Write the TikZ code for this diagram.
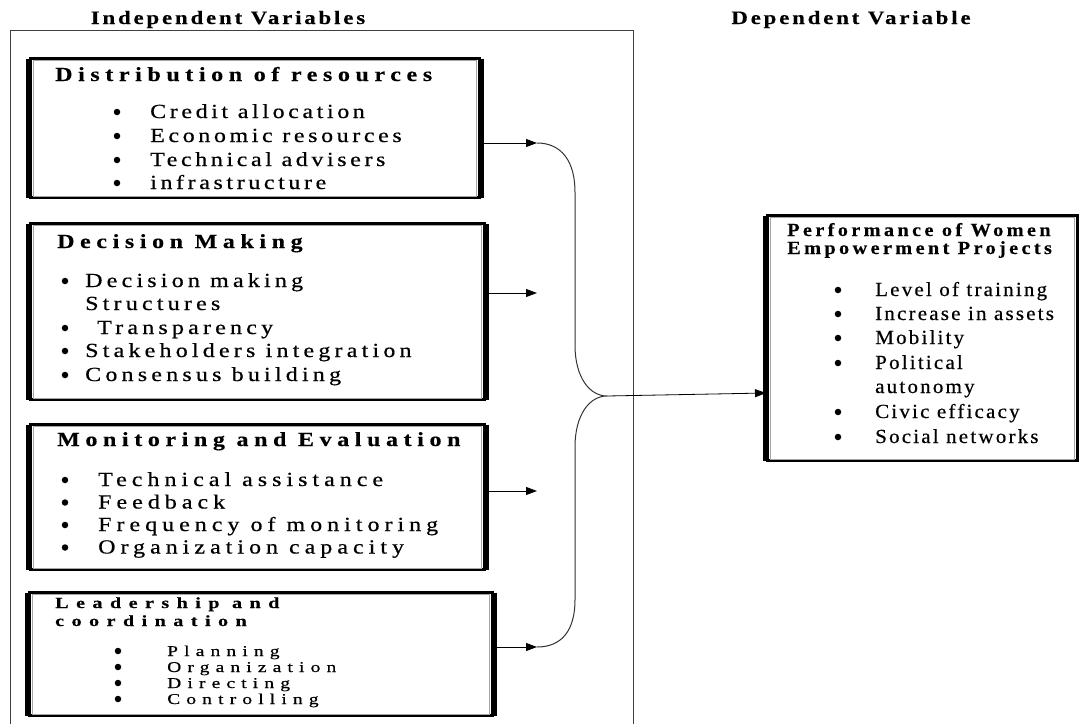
\documentclass[tikz,border=0pt]{standalone}
\usepackage{fontspec}
\setmainfont{Liberation Serif}
\newfontfamily\lsA[FakeStretch=1.2,LetterSpace=18,FakeBold=0.6]{Liberation Serif}
\newfontfamily\lsB[FakeStretch=1.2,LetterSpace=21,FakeBold=0.6]{Liberation Serif}
\newfontfamily\lsC[FakeStretch=1.2,LetterSpace=25,FakeBold=0.6]{Liberation Serif}
\newfontfamily\lsT[FakeStretch=1.2,LetterSpace=28,FakeBold=0.4]{Liberation Serif}
\newfontfamily\lsD[FakeStretch=1.3,LetterSpace=41,FakeBold=0.6]{Liberation Serif}
\newfontfamily\lsE[FakeStretch=1.3,LetterSpace=48,FakeBold=0.4]{Liberation Serif}
\newfontfamily\lsF[FakeStretch=1.05,LetterSpace=11,FakeBold=0.5]{Liberation Serif}
\newfontfamily\lsG[FakeStretch=1.1,LetterSpace=18,FakeBold=0.3]{Liberation Serif}
\newfontfamily\lsH[FakeStretch=1.2,LetterSpace=15,FakeBold=0.3]{Liberation Serif}
\usetikzlibrary{arrows.meta}
\begin{document}
\begin{tikzpicture}[x=1pt,y=-1pt,
  box/.style={draw=black, line width=3pt, inner sep=0pt, anchor=north west},
  side/.style={line width=6pt, black},
  inner/.style={draw=gray!70, line width=0.6pt},
  frame/.style={draw=black!75, line width=1pt},
  hd/.style={anchor=base, inner sep=0pt, font=\fontsize{19}{21}\selectfont\lsH\bfseries},
  ttl/.style={anchor=base west, inner sep=0pt, font=\fontsize{20}{22}\selectfont\lsT\bfseries},
  tA/.style={anchor=base west, inner sep=0pt, font=\fontsize{20}{24}\selectfont\lsA},
  tB/.style={anchor=base west, inner sep=0pt, font=\fontsize{20}{24}\selectfont\lsB},
  tC/.style={anchor=base west, inner sep=0pt, font=\fontsize{20}{24}\selectfont\lsC},
  tD/.style={anchor=base west, inner sep=0pt, font=\fontsize{15}{18}\selectfont\lsD},
  tDb/.style={anchor=base west, inner sep=0pt, font=\fontsize{15.5}{18}\selectfont\lsE\bfseries},
  tF/.style={anchor=base west, inner sep=0pt, font=\fontsize{20}{22}\selectfont\lsF},
  tFb/.style={anchor=base west, inner sep=0pt, font=\fontsize{18.5}{20}\selectfont\lsG\bfseries},
  bul/.style={circle, fill=black, inner sep=0pt, minimum size=6.5pt},
  arr/.style={-{Triangle[length=11pt,width=8pt]}, line width=0.8pt, black},
  brace/.style={line width=1pt, black!80}
]
\useasboundingbox (0,0) rectangle (1079,723);
% outer frame
\draw[frame] (10,740) -- (10,30) -- (633,30) -- (633,740);
% headers
\node[hd] (h1) at (228,24) {Independent Variables};
\node[hd] (h2) at (851,24) {Dependent Variable};

% boxes
\node[box, minimum width=449pt, minimum height=139pt] (b1) at (29,57) {};
\node[box, minimum width=454pt, minimum height=176pt] (b2) at (29,222) {};
\node[box, minimum width=454pt, minimum height=145pt] (b3) at (29,423) {};
\node[box, minimum width=463pt, minimum height=123pt] (b4) at (28,591) {};
\node[box, minimum width=310pt, minimum height=245pt] (tg) at (766,214) {};
\foreach \b in {b1,b2,b3,b4,tg}{
  \draw[side] ([yshift=-1.5pt]\b.north west) -- ([yshift=1.5pt]\b.south west);
  \draw[side] ([yshift=-1.5pt]\b.north east) -- ([yshift=1.5pt]\b.south east);
  \draw[inner] ([shift={(4.5pt,-3pt)}]\b.north west) rectangle ([shift={(-4.5pt,3pt)}]\b.south east);
}

% box 1
\node[ttl] (b1t) at (55,81) {Distribution of resources};
\foreach \y/\t [count=\i] in {118/Credit allocation,142/Economic resources,166/Technical advisers,189/infrastructure}{
  \node[bul] (b1d\i) at (117,\y-6) {};
  \node[tA] (b1l\i) at (150,\y) {\t};
}
% box 2
\node[ttl] (b2t) at (57,248) {Decision Making};
\node[bul] (b2d1) at (65,281) {};
\node[tB] (b2l1) at (85,287) {Decision making};
\node[tB] (b2l1b) at (85,310) {Structures};
\node[bul] (b2d2) at (65,328) {};
\node[tB] (b2l2) at (97,334) {Transparency};
\node[bul] (b2d3) at (65,351) {};
\node[tB] (b2l3) at (85,357) {Stakeholders integration};
\node[bul] (b2d4) at (65,375) {};
\node[tB] (b2l4) at (85,381) {Consensus building};
% box 3
\node[ttl] (b3t) at (57,446) {Monitoring and Evaluation};
\foreach \y/\t [count=\i] in {486/Technical assistance,508.5/Feedback,531/Frequency of monitoring,553.5/Organization capacity}{
  \node[bul] (b3d\i) at (65,\y-6) {};
  \node[tC] (b3l\i) at (98,\y) {\t};
}
% box 4
\node[tDb] (b4t) at (55,608) {Leadership and};
\node[tDb] (b4t2) at (55,626) {coordination};
\foreach \y/\t [count=\i] in {656/Planning,672/Organization,688/Directing,704/Controlling}{
  \node[bul] (b4d\i) at (118,\y-5) {};
  \node[tD] (b4l\i) at (167,\y) {\t};
}
% target box
\node[tFb] (tgt) at (787,236) {Performance of Women};
\node[tFb] (tgt2) at (787,254) {Empowerment Projects};
\foreach \y/\t [count=\i] in {296/Level of training,320/Increase in assets,344/Mobility,369/Political,393/autonomy,418/Civic efficacy,443/Social networks}{
  \node[tF] (tgl\i) at (875,\y) {\t};
}
\foreach \y [count=\i] in {296,320,344,369,418,443}{
  \node[bul] (tgd\i) at (838,\y-6) {};
}

% connectors
\coordinate (a1) at (537,143);
\coordinate (a2) at (537,293);
\coordinate (a3) at (537,491);
\coordinate (a4) at (537,647);
\coordinate (m) at (607,396);
\draw[arr] (b1.east |- a1) -- (a1);
\draw[arr] (b2.east |- a2) -- (a2);
\draw[arr] (b3.east |- a3) -- (a3);
\draw[arr] (b4.east |- a4) -- (a4);
\draw[brace] (a1) .. controls (562,143) and (575,162) .. (575,192) -- (575,345)
  .. controls (575,378) and (590,396) .. (m)
  .. controls (590,396) and (575,414) .. (575,447) -- (575,600)
  .. controls (575,630) and (562,647) .. (a4);
\draw[arr] (m) -- (tg.west |- 0,393);
\end{tikzpicture}
\end{document}
